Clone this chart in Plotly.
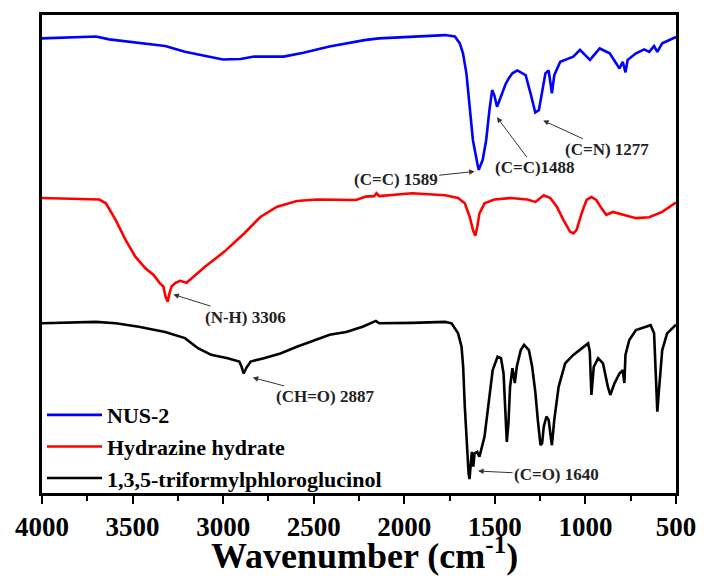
import plotly.graph_objects as go

# FTIR spectra (stacked, arbitrary transmittance units)
nus2_wn = [4000, 3865, 3702, 3629, 3466, 3320, 3211, 3102, 3002, 2904, 2829, 2666, 2557, 2413,
           2266, 2212, 2139, 1957, 1775, 1721, 1694, 1676, 1657, 1639, 1621, 1597, 1589, 1567,
           1548, 1530, 1515, 1503, 1488, 1470, 1440, 1421, 1403, 1376, 1330, 1303, 1277, 1257,
           1239, 1221, 1203, 1185, 1172, 1139, 1067, 1030, 975, 921, 866, 812, 794, 779, 767,
           721, 675, 648, 621, 603, 576, 503, 500]
nus2_t = [95.1, 95.3, 95.5, 94.9, 94.1, 93.5, 92.3, 91.4, 90.7, 90.8, 91.3, 91.3, 92.1, 93.4,
          94.4, 94.8, 95.1, 95.5, 95.8, 95.5, 94.1, 92.0, 87.8, 80.8, 73.8, 69.0, 67.6, 69.7,
          73.8, 80.1, 84.3, 83.2, 80.8, 82.6, 85.6, 86.9, 87.8, 88.4, 87.4, 83.6, 79.6, 80.1,
          83.6, 87.8, 88.4, 83.6, 87.4, 90.2, 91.3, 92.7, 90.6, 93.0, 92.0, 88.8, 90.2, 88.0, 90.6,
          92.0, 92.8, 92.3, 93.5, 92.3, 94.1, 95.3, 95.4]

hydrazine_wn = [4000, 3684, 3647, 3593, 3538, 3484, 3429, 3384, 3350, 3330, 3318, 3306, 3296,
                3285, 3265, 3238, 3202, 3175, 3102, 2993, 2884, 2793, 2702, 2593, 2484, 2266,
                2212, 2166, 2153, 2139, 1957, 1775, 1703, 1666, 1639, 1621, 1608, 1597, 1585,
                1557, 1503, 1412, 1321, 1276, 1230, 1194, 1158, 1121, 1085, 1067, 1049, 1021,
                994, 967, 940, 912, 885, 848, 794, 721, 648, 576, 503, 500]
hydrazine_t = [61.7, 61.4, 60.6, 57.1, 52.9, 49.4, 47.0, 45.6, 43.9, 43.2, 41.1, 40.0, 41.8,
               43.2, 43.9, 44.4, 44.0, 44.9, 47.3, 50.5, 54.3, 57.8, 59.9, 61.1, 61.4, 61.3,
               62.0, 62.1, 62.7, 62.1, 62.7, 62.3, 61.7, 60.6, 57.8, 55.0, 53.8, 55.7, 58.5,
               60.6, 61.4, 61.7, 61.4, 60.9, 62.3, 61.7, 59.9, 57.1, 54.7, 54.3, 55.0, 58.5,
               61.3, 61.9, 61.3, 59.6, 58.2, 58.8, 58.2, 57.5, 57.7, 58.8, 60.7, 60.8]

tfp_wn = [4000, 3865, 3702, 3593, 3466, 3320, 3211, 3139, 3066, 2975, 2911, 2897, 2887, 2870,
          2848, 2775, 2684, 2593, 2502, 2412, 2321, 2230, 2157, 2139, 1957, 1775, 1739, 1703,
          1684, 1675, 1666, 1657, 1645, 1640, 1634, 1627, 1619, 1612, 1597, 1585, 1557, 1530,
          1512, 1485, 1466, 1452, 1443, 1434, 1425, 1416, 1403, 1390, 1379, 1357, 1339, 1312,
          1294, 1276, 1263, 1248, 1239, 1230, 1215, 1203, 1194, 1185, 1172, 1148, 1112, 1067,
          985, 976, 967, 954, 930, 903, 876, 863, 839, 812, 794, 785, 779, 758, 721, 640, 621,
          612, 603, 594, 576, 549, 503, 500]
tfp_t = [35.5, 35.6, 35.8, 35.5, 34.8, 33.7, 32.4, 30.3, 28.9, 28.2, 27.5, 26.3, 25.0, 26.3,
         27.5, 28.2, 29.2, 30.6, 31.8, 33.1, 33.7, 34.8, 36.0, 35.5, 35.6, 35.8, 35.5, 33.4,
         30.6, 26.4, 18.1, 11.1, 4.1, 2.9, 5.5, 8.6, 5.5, 8.3, 8.6, 7.6, 11.8, 20.1,
         25.7, 28.5, 28.2, 25.0, 16.7, 10.7, 14.6, 22.2, 26.1, 23.0, 26.4, 29.9, 31.0, 29.9,
         26.4, 20.9, 15.3, 10.0, 10.4, 13.9, 16.0, 15.3, 12.5, 10.0, 15.3, 22.2, 27.1, 28.9,
         31.3, 29.6, 20.5, 26.4, 28.2, 27.1, 22.2, 20.5, 23.0, 25.0, 25.7, 23.0, 28.9, 32.0,
         34.1, 35.1, 33.4, 23.6, 17.0, 21.5, 29.9, 33.4, 35.1, 35.2]

series = [
    ("NUS-2", nus2_wn, nus2_t, "#0000ff"),
    ("Hydrazine hydrate", hydrazine_wn, hydrazine_t, "#ff0000"),
    ("1,3,5-triformylphloroglucinol", tfp_wn, tfp_t, "#000000"),
]

# Band assignments: label, arrow tip (wavenumber, T) and label centre (wavenumber, T)
band_labels = ["(C=C) 1589", "(C=C)1488", "(C=N) 1277", "(N-H) 3306", "(CH=O) 2887", "(C=O) 1640"]
band_x = [1606, 1492, 1238, 3280, 2842, 1598]
band_y = [67.3, 78.8, 78.0, 41.6, 24.2, 4.6]
label_x = [2048, 1279, 881, 2877, 2435, 1159]
label_y = [65.5, 68.0, 71.8, 36.8, 20.1, 3.8]

serif = "Liberation Serif, Times New Roman, serif"

fig = go.Figure()
for name, wn, t, color in series:
    fig.add_trace(go.Scatter(x=wn, y=t, mode="lines", name="<b>%s</b>" % name,
                             line=dict(color=color, width=2.6)))

for txt, bx, by, lx, ly in zip(band_labels, band_x, band_y, label_x, label_y):
    fig.add_annotation(x=bx, y=by, ax=lx, ay=ly, axref="x", ayref="y", xref="x", yref="y",
                       text="<b>%s</b>" % txt, showarrow=True, arrowhead=2, arrowsize=1.1,
                       arrowwidth=1, arrowcolor="#333333", standoff=1,
                       font=dict(family=serif, size=17, color="#222222"))

# x-axis title
fig.add_annotation(x=0.508, y=-0.127, xref="paper", yref="paper", xanchor="center",
                   yanchor="middle", showarrow=False,
                   text="<b>Wavenumber (cm<sup>-1</sup>)</b>",
                   font=dict(family=serif, size=36, color="black"))

ticks = [4000, 3500, 3000, 2500, 2000, 1500, 1000, 500]

fig.update_layout(
    width=708, height=580,
    margin=dict(l=42, r=24, t=15, b=87),
    plot_bgcolor="white", paper_bgcolor="white",
    showlegend=True,
    legend=dict(x=0.0, y=0.207, xanchor="left", yanchor="top",
                bgcolor="rgba(0,0,0,0)", itemwidth=55, tracegroupgap=0,
                font=dict(family=serif, size=22, color="black")),
    font=dict(family=serif, color="black"),
)
fig.update_xaxes(range=[4000, 500], tickvals=ticks,
                 ticktext=["<b>%d</b>" % v for v in ticks],
                 ticks="outside", ticklen=8, tickwidth=2, tickcolor="black",
                 minor=dict(ticks="outside", ticklen=5, tickwidth=2, tickcolor="black", dtick=250,
                            tick0=500, showgrid=False),
                 showline=True, linewidth=2.5, linecolor="black", mirror=True,
                 showgrid=False, zeroline=False,
                 tickfont=dict(family=serif, size=27, color="black"))
fig.update_yaxes(range=[0, 100], showticklabels=False, ticks="", showgrid=False,
                 zeroline=False, showline=True, linewidth=2.5, linecolor="black", mirror=True)

fig.write_html("out.html")
